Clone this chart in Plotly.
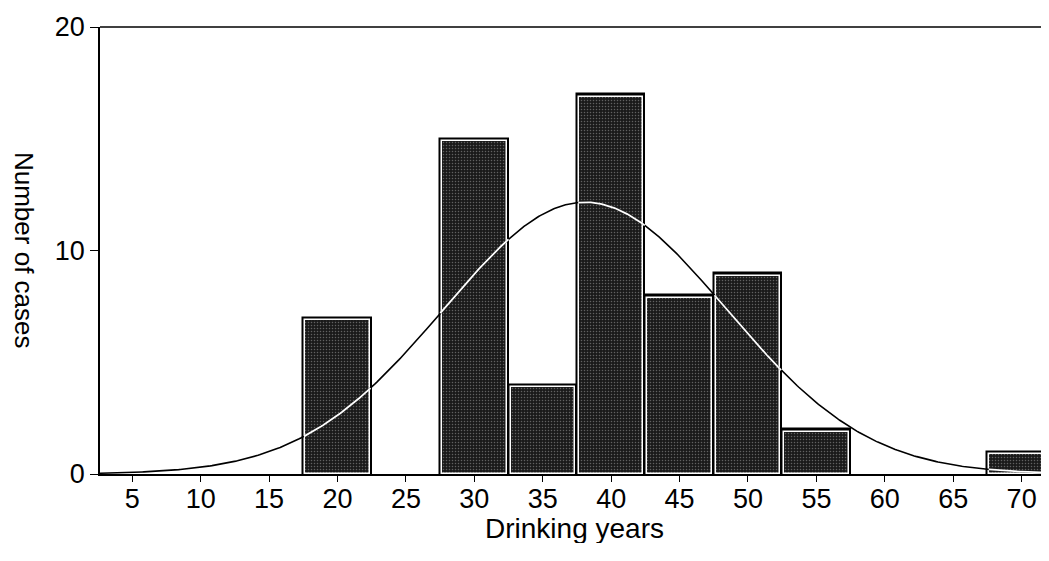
import numpy as np
import plotly.graph_objects as go

# Data
bin_centers = [20, 30, 35, 40, 45, 50, 55, 70]
counts = [7, 15, 4, 17, 8, 9, 2, 1]
bin_width = 5
x_ticks = [5, 10, 15, 20, 25, 30, 35, 40, 45, 50, 55, 60, 65, 70]
y_ticks = [0, 10, 20]

# Normal curve fitted to the histogram data
c = np.array(bin_centers, float)
n = np.array(counts, float)
N = n.sum()
mu = (c * n).sum() / N
sigma = np.sqrt(((c - mu) ** 2 * n).sum() / (N - 1))
xs = np.linspace(2.6, 72, 600)
ys = N * bin_width / (sigma * np.sqrt(2 * np.pi)) * np.exp(-0.5 * ((xs - mu) / sigma) ** 2)

# white part of the curve where it runs inside a bar
yw = np.full_like(ys, np.nan)
for cc, h in zip(bin_centers, counts):
    m = (xs >= cc - bin_width / 2) & (xs <= cc + bin_width / 2) & (ys < h - 0.15)
    yw[m] = ys[m]

FONT = "Liberation Sans, Arial, sans-serif"

fig = go.Figure()
# outer black outline
fig.add_trace(go.Bar(x=bin_centers, y=counts, width=[bin_width] * len(counts),
                     marker=dict(color="#000000", line=dict(color="#000000", width=1.5)),
                     hoverinfo="skip", showlegend=False))
# inner white rim + speckled dark fill
fig.add_trace(go.Bar(x=bin_centers, y=[v - 0.12 for v in counts], width=[bin_width - 0.3] * len(counts),
                     marker=dict(color="#1a1a1a", line=dict(color="#ffffff", width=1.5),
                                 pattern=dict(shape=".", fgcolor="#a8a8a8", bgcolor="#1a1a1a",
                                              size=3, solidity=0.2)),
                     hoverinfo="skip", showlegend=False))
fig.add_trace(go.Scatter(x=xs, y=ys, mode="lines", line=dict(color="#000000", width=1.6),
                         hoverinfo="skip", showlegend=False))
fig.add_trace(go.Scatter(x=xs, y=yw, mode="lines", line=dict(color="#ffffff", width=1.8),
                         connectgaps=False, hoverinfo="skip", showlegend=False))

fig.update_layout(
    width=1041, height=535,
    margin=dict(l=92, r=0, t=19, b=69),
    paper_bgcolor="white", plot_bgcolor="white",
    barmode="overlay", bargap=0,
    font=dict(family=FONT, color="#000000"),
    xaxis=dict(range=[2.64, 72.0], tickmode="array", tickvals=x_ticks, automargin=False,
               ticks="outside", ticklen=6, tickwidth=1.2, tickcolor="#000",
               ticklabelstandoff=-6,
               showline=True, linecolor="#000", linewidth=1.5, showgrid=False, zeroline=False,
               tickfont=dict(size=27, family=FONT)),
    yaxis=dict(range=[0, 20], tickmode="array", tickvals=y_ticks, automargin=False,
               ticks="outside", ticklen=8, tickwidth=1.2, tickcolor="#000",
               showline=True, linecolor="#000", linewidth=1.5, showgrid=False, zeroline=False,
               tickfont=dict(size=27, family=FONT)),
    shapes=[dict(type="line", xref="paper", yref="paper", x0=0, x1=1, y0=1, y1=1,
                 line=dict(color="#000", width=1.5))],
    annotations=[
        dict(text="Number of cases", textangle=90, xref="paper", yref="paper",
             x=-0.080, y=0.501, xanchor="center", yanchor="middle", showarrow=False,
             font=dict(size=26, family=FONT)),
        dict(text="Drinking years", xref="paper", yref="paper",
             x=0.5005, y=-0.121, xanchor="center", yanchor="middle", showarrow=False,
             font=dict(size=28, family=FONT)),
    ],
)

fig.write_html("out.html")
